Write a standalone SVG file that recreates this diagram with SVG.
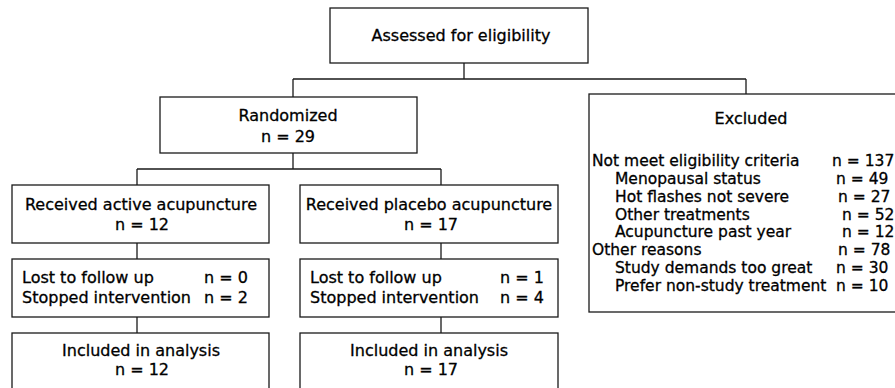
<svg xmlns="http://www.w3.org/2000/svg" width="895" height="388" viewBox="0 0 895 388">
<style>
.box{fill:#fff;stroke:#1a1a1a;stroke-width:1.3}
.ln{fill:none;stroke:#1a1a1a;stroke-width:1.3}
text{font-family:"DejaVu Sans","Liberation Sans",sans-serif;fill:#000;stroke:#000;stroke-width:0.3}
.t{font-size:16px}
.c{text-anchor:middle}
.s{font-size:15.5px}
</style>
<rect width="895" height="388" fill="#fff"/>
<g id="connectors">
<path class="ln" d="M464,63V79M293,79H746M293,79V97M746,79V94"/>
<path class="ln" d="M293,153V169M137,169H441M137,169V185M441,169V185"/>
<path class="ln" d="M137,243V259M441,243V259M137,317V333M441,317V333"/>
</g>
<g id="assessed">
<rect class="box" x="330" y="8" width="258" height="55"/>
<text class="t c" x="461" y="41">Assessed for eligibility</text>
</g>
<g id="randomized">
<rect class="box" x="160" y="97" width="257" height="56"/>
<text class="t c" x="288" y="121">Randomized</text>
<text class="t c" x="288" y="142">n = 29</text>
</g>
<g id="excluded">
<rect class="box" x="589" y="94" width="320" height="218"/>
<text class="t c" x="751" y="124">Excluded</text>
<text class="s" x="592" y="166">Not meet eligibility criteria</text><text class="s" x="832" y="166">n = 137</text>
<text class="s" x="615" y="184">Menopausal status</text><text class="s" x="836" y="184">n = 49</text>
<text class="s" x="615" y="202">Hot flashes not severe</text><text class="s" x="838" y="202">n = 27</text>
<text class="s" x="615" y="220">Other treatments</text><text class="s" x="842" y="220">n = 52</text>
<text class="s" x="615" y="237">Acupuncture past year</text><text class="s" x="842" y="237">n = 12</text>
<text class="s" x="592" y="255">Other reasons</text><text class="s" x="838" y="255">n = 78</text>
<text class="s" x="615" y="273">Study demands too great</text><text class="s" x="836" y="273">n = 30</text>
<text class="s" x="615" y="291">Prefer non-study treatment</text><text class="s" x="836" y="291">n = 10</text>
</g>
<g id="active">
<rect class="box" x="12" y="185" width="257" height="58"/>
<text class="t c" x="141" y="210">Received active acupuncture</text>
<text class="t c" x="142" y="230">n = 12</text>
</g>
<g id="placebo">
<rect class="box" x="300" y="185" width="258" height="58"/>
<text class="t c" x="429" y="210">Received placebo acupuncture</text>
<text class="t c" x="431" y="230">n = 17</text>
</g>
<g id="lost-active">
<rect class="box" x="12" y="259" width="257" height="58"/>
<text class="t" x="22" y="283">Lost to follow up</text><text class="t" x="204" y="283">n = 0</text>
<text class="t" x="22" y="303">Stopped intervention</text><text class="t" x="204" y="303">n = 2</text>
</g>
<g id="lost-placebo">
<rect class="box" x="300" y="259" width="258" height="58"/>
<text class="t" x="310" y="283">Lost to follow up</text><text class="t" x="500" y="283">n = 1</text>
<text class="t" x="310" y="303">Stopped intervention</text><text class="t" x="500" y="303">n = 4</text>
</g>
<g id="included-active">
<rect class="box" x="12" y="333" width="257" height="70"/>
<text class="t c" x="141" y="356">Included in analysis</text>
<text class="t c" x="142" y="375">n = 12</text>
</g>
<g id="included-placebo">
<rect class="box" x="300" y="333" width="258" height="70"/>
<text class="t c" x="429" y="356">Included in analysis</text>
<text class="t c" x="431" y="375">n = 17</text>
</g>
</svg>
